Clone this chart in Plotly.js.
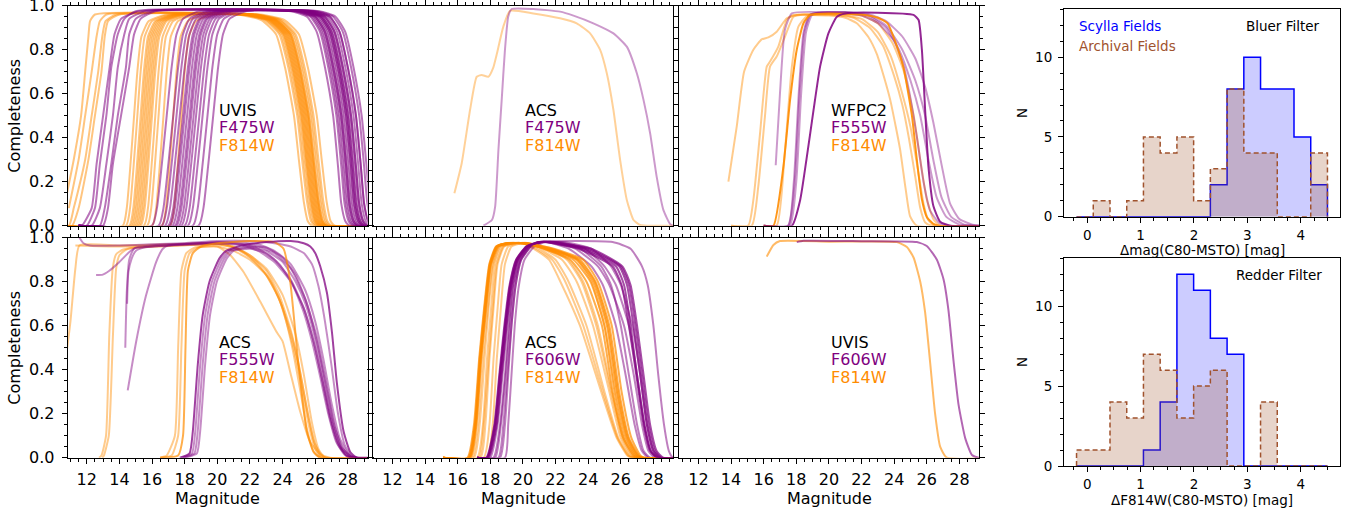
<!DOCTYPE html>
<html><head><meta charset="utf-8">
<script src="https://cdn.plot.ly/plotly-3.0.1.min.js"></script>
<style>html,body{margin:0;padding:0;background:#fff}#chart{width:1361px;height:514px}</style>
</head><body><div id="chart"></div>
<script>
// ---------------- DATA ----------------
// Panel labels
const cameras = ['UVIS', 'ACS', 'WFPC2', 'ACS', 'ACS', 'UVIS'];
const blueFilters = ['F475W', 'F475W', 'F555W', 'F555W', 'F606W', 'F606W'];
const redFilters = ['F814W', 'F814W', 'F814W', 'F814W', 'F814W', 'F814W'];
const magTicks = [12, 14, 16, 18, 20, 22, 24, 26, 28];
const compTicks = [0, 0.2, 0.4, 0.6, 0.8, 1.0];

// Panel A (UVIS F475W / F814W): magnitudes at fixed completeness levels
const levelsA_F475W = [0, 0, 0.08, 0.28, 0.5, 0.72, 0.87, 0.94, 0.975, 0.975, 0.95, 0.88, 0.72, 0.5, 0.27, 0.1, 0.02, 0, 0];
const panelA_F475W = [
  [11.5, 11.7, 12.3, 12.6, 13.0, 13.4, 13.7, 14.1, 15.2, 25.0, 26.0, 26.6, 27.1, 27.6, 27.9, 28.1, 28.35, 28.6, 30.5],
  [11.5, 12.3, 12.8, 13.2, 13.6, 13.9, 14.3, 14.6, 15.6, 25.6, 26.6, 27.2, 27.7, 28.2, 28.5, 28.7, 28.95, 29.2, 30.5],
  [11.5, 12.8, 13.1, 13.5, 13.9, 14.4, 14.6, 15.0, 16.0, 24.7, 25.7, 26.3, 26.8, 27.3, 27.6, 27.8, 28.05, 28.3, 30.5],
  [11.5, 13.0, 13.3, 13.6, 14.1, 14.6, 14.9, 15.3, 16.2, 25.9, 26.9, 27.5, 28.0, 28.5, 28.8, 29.0, 29.25, 29.5, 30.5],
  [11.5, 12.0, 12.5, 12.8, 13.2, 13.5, 13.9, 14.3, 15.0, 25.3, 26.3, 26.9, 27.4, 27.9, 28.2, 28.4, 28.65, 28.9, 30.5],
  [11.5, 16.0, 16.3, 16.6, 16.9, 17.2, 17.5, 17.9, 18.9, 24.9, 25.9, 26.5, 27.0, 27.5, 27.8, 28.0, 28.25, 28.5, 30.5],
  [11.5, 16.4, 16.7, 17.0, 17.3, 17.6, 17.9, 18.3, 19.3, 24.5, 25.5, 26.1, 26.6, 27.1, 27.4, 27.6, 27.85, 28.1, 30.5],
  [11.5, 16.6, 16.9, 17.2, 17.5, 17.8, 18.1, 18.5, 19.5, 25.4, 26.4, 27.0, 27.5, 28.0, 28.3, 28.5, 28.75, 29.0, 30.5],
  [11.5, 16.8, 17.1, 17.4, 17.7, 18.0, 18.3, 18.7, 19.7, 25.1, 26.1, 26.7, 27.2, 27.7, 28.0, 28.2, 28.45, 28.7, 30.5],
  [11.5, 17.0, 17.3, 17.6, 17.9, 18.2, 18.5, 18.9, 19.9, 25.75, 26.75, 27.35, 27.85, 28.35, 28.65, 28.85, 29.1, 29.35, 30.5],
  [11.5, 17.1, 17.4, 17.7, 18.0, 18.3, 18.6, 19.0, 20.0, 25.2, 26.2, 26.8, 27.3, 27.8, 28.1, 28.3, 28.55, 28.8, 30.5],
  [11.5, 17.25, 17.55, 17.85, 18.15, 18.45, 18.75, 19.15, 20.15, 25.5, 26.5, 27.1, 27.6, 28.1, 28.4, 28.6, 28.85, 29.1, 30.5],
  [11.5, 17.4, 17.7, 18.0, 18.3, 18.6, 18.9, 19.3, 20.3, 24.8, 25.8, 26.4, 26.9, 27.4, 27.7, 27.9, 28.15, 28.4, 30.5],
  [11.5, 17.5, 17.8, 18.1, 18.4, 18.7, 19.0, 19.4, 20.4, 25.9, 26.9, 27.5, 28.0, 28.5, 28.8, 29.0, 29.25, 29.5, 30.5],
  [11.5, 17.65, 17.95, 18.25, 18.55, 18.85, 19.15, 19.55, 20.55, 25.3, 26.3, 26.9, 27.4, 27.9, 28.2, 28.4, 28.65, 28.9, 30.5],
  [11.5, 17.8, 18.1, 18.4, 18.7, 19.0, 19.3, 19.7, 20.7, 25.6, 26.6, 27.2, 27.7, 28.2, 28.5, 28.7, 28.95, 29.2, 30.5],
  [11.5, 18.0, 18.3, 18.6, 18.9, 19.2, 19.5, 19.9, 20.9, 25.0, 26.0, 26.6, 27.1, 27.6, 27.9, 28.1, 28.35, 28.6, 30.5],
  [11.5, 18.2, 18.5, 18.8, 19.1, 19.4, 19.7, 20.1, 21.1, 26.1, 27.1, 27.7, 28.2, 28.7, 29.0, 29.2, 29.45, 29.7, 30.5],
  [11.5, 18.5, 18.8, 19.1, 19.4, 19.7, 20.0, 20.4, 21.4, 25.4, 26.4, 27.0, 27.5, 28.0, 28.3, 28.5, 28.75, 29.0, 30.5],
  [11.5, 18.85, 19.15, 19.45, 19.75, 20.05, 20.35, 20.75, 21.75, 26.25, 27.25, 27.85, 28.35, 28.85, 29.15, 29.35, 29.6, 29.85, 30.5]
];
const levelsA_F814W = [0, 0, 0.08, 0.3, 0.5, 0.7, 0.86, 0.93, 0.96, 0.96, 0.935, 0.87, 0.72, 0.5, 0.3, 0.11, 0.02, 0, 0];
const panelA_F814W = [
  [null, null, 10.6, 11.2, 11.65, 11.9, 12.1, 12.2, 12.5, 21.5, 23.0, 23.9, 24.45, 25.0, 25.3, 25.6, 25.85, 26.1, 30.5],
  [null, null, 10.9, 11.5, 11.9, 12.3, 12.6, 12.8, 13.2, 22.1, 23.6, 24.5, 25.05, 25.6, 25.9, 26.2, 26.45, 26.7, 30.5],
  [10.0, 10.9, 11.2, 11.9, 12.3, 12.7, 12.95, 13.15, 13.8, 21.8, 23.3, 24.2, 24.75, 25.3, 25.6, 25.9, 26.15, 26.4, 30.5],
  [10.0, 11.1, 11.5, 12.1, 12.5, 12.9, 13.1, 13.3, 14.0, 21.4, 22.9, 23.8, 24.35, 24.9, 25.2, 25.5, 25.75, 26.0, 30.5],
  [10.0, 14.2, 14.45, 14.7, 14.9, 15.1, 15.35, 15.8, 16.9, 21.9, 23.4, 24.3, 24.85, 25.4, 25.7, 26.0, 26.25, 26.5, 30.5],
  [10.0, 14.4, 14.65, 14.9, 15.1, 15.3, 15.55, 16.0, 17.1, 21.2, 22.7, 23.6, 24.15, 24.7, 25.0, 25.3, 25.55, 25.8, 30.5],
  [10.0, 14.6, 14.85, 15.1, 15.3, 15.5, 15.75, 16.2, 17.3, 22.0, 23.5, 24.4, 24.95, 25.5, 25.8, 26.1, 26.35, 26.6, 30.5],
  [10.0, 14.7, 14.95, 15.2, 15.4, 15.6, 15.85, 16.3, 17.4, 21.6, 23.1, 24.0, 24.55, 25.1, 25.4, 25.7, 25.95, 26.2, 30.5],
  [10.0, 14.8, 15.05, 15.3, 15.5, 15.7, 15.95, 16.4, 17.5, 22.3, 23.8, 24.7, 25.25, 25.8, 26.1, 26.4, 26.65, 26.9, 30.5],
  [10.0, 14.9, 15.15, 15.4, 15.6, 15.8, 16.05, 16.5, 17.6, 21.7, 23.2, 24.1, 24.65, 25.2, 25.5, 25.8, 26.05, 26.3, 30.5],
  [10.0, 15.0, 15.25, 15.5, 15.7, 15.9, 16.15, 16.6, 17.7, 21.85, 23.35, 24.25, 24.8, 25.35, 25.65, 25.95, 26.2, 26.45, 30.5],
  [10.0, 15.1, 15.35, 15.6, 15.8, 16.0, 16.25, 16.7, 17.8, 22.1, 23.6, 24.5, 25.05, 25.6, 25.9, 26.2, 26.45, 26.7, 30.5],
  [10.0, 15.2, 15.45, 15.7, 15.9, 16.1, 16.35, 16.8, 17.9, 21.95, 23.45, 24.35, 24.9, 25.45, 25.75, 26.05, 26.3, 26.55, 30.5],
  [10.0, 15.3, 15.55, 15.8, 16.0, 16.2, 16.45, 16.9, 18.0, 22.6, 24.1, 25.0, 25.55, 26.1, 26.4, 26.7, 26.95, 27.2, 30.5],
  [10.0, 15.5, 15.75, 16.0, 16.2, 16.4, 16.65, 17.1, 18.2, 21.75, 23.25, 24.15, 24.7, 25.25, 25.55, 25.85, 26.1, 26.35, 30.5],
  [10.0, 15.7, 15.95, 16.2, 16.4, 16.6, 16.85, 17.3, 18.4, 22.2, 23.7, 24.6, 25.15, 25.7, 26.0, 26.3, 26.55, 26.8, 30.5],
  [10.0, 16.0, 16.25, 16.5, 16.7, 16.9, 17.15, 17.6, 18.7, 22.4, 23.9, 24.8, 25.35, 25.9, 26.2, 26.5, 26.75, 27.0, 30.5],
  [10.0, 16.6, 16.85, 17.1, 17.3, 17.5, 17.75, 18.2, 19.3, 21.65, 23.15, 24.05, 24.6, 25.15, 25.45, 25.75, 26.0, 26.25, 30.5],
  [10.0, 17.1, 17.35, 17.6, 17.8, 18.0, 18.25, 18.7, 19.8, 22.05, 23.55, 24.45, 25.0, 25.55, 25.85, 26.15, 26.4, 26.65, 30.5]
];

// Panel B (ACS F475W / F814W): [mag, completeness] pairs
const panelB_F475W = [
  [17.58,0, 18.1,0.026, 18.3,0.087, 18.5,0.344, 18.7,0.571, 18.9,0.799, 19.1,0.95, 19.31,0.985, 20.64,0.985, 22.28,0.973, 23.1,0.955, 24.32,0.92, 25.55,0.874, 26.37,0.814, 26.98,0.694, 27.39,0.573, 27.8,0.42, 28.2,0.223, 28.61,0.072, 29.02,0.008, 29.2,0, 30.5,0]
];
const panelB_F814W = [
  [15.8,0.147, 16.25,0.284, 16.76,0.526, 17.17,0.677, 17.47,0.685, 17.88,0.677, 18.19,0.72, 18.4,0.78, 18.8,0.905, 19.21,0.977, 20.64,0.965, 22.28,0.943, 23.3,0.92, 24.12,0.874, 24.73,0.80, 25.14,0.694, 25.55,0.526, 25.96,0.299, 26.37,0.117, 26.78,0.026, 27.19,0.003, 27.6,0, 30.5,0]
];

// Panel C (WFPC2 F555W / F814W)
const panelC_F555W_strong = [
  [16.0,0, 17.73,0, 18.24,0.117, 18.65,0.314, 19.06,0.526, 19.46,0.723, 19.97,0.874, 20.49,0.95, 21.0,0.965, 23,0.968, 25.19,0.958, 25.5,0.935, 25.7,0.8, 25.9,0.526, 26.1,0.27, 26.41,0.088, 26.82,0.018, 27.43,0, 30.5,0]
];
const panelC_F555W = [
  [16.74,0.275, 17.0,0.6, 17.3,0.889, 17.73,0.965, 20,0.97, 22,0.955, 23.0,0.92, 24.0,0.84, 24.6,0.72, 25.0,0.58, 25.4,0.4, 25.8,0.2, 26.2,0.07, 26.8,0.01, 27.5,0, 30.5,0],
  [16.0,0, 17.5,0, 17.9,0.2, 18.2,0.6, 18.5,0.88, 18.9,0.96, 21,0.97, 22.5,0.95, 23.5,0.9, 24.3,0.8, 25.0,0.66, 25.6,0.5, 26.1,0.3, 26.6,0.13, 27.2,0.04, 28,0.005, 29,0, 30.5,0],
  [16.0,0, 17.6,0, 18.0,0.2, 18.3,0.6, 18.6,0.88, 19.0,0.96, 21,0.97, 22.5,0.955, 23.5,0.91, 24.5,0.8, 25.3,0.66, 25.9,0.5, 26.4,0.3, 26.9,0.13, 27.5,0.04, 28.3,0.005, 29.1,0, 30.5,0],
  [16.0,0, 17.5,0, 17.85,0.2, 18.15,0.6, 18.45,0.88, 18.85,0.96, 21,0.97, 22.5,0.96, 23.5,0.93, 24.5,0.86, 25.3,0.76, 25.9,0.63, 26.4,0.47, 26.9,0.28, 27.43,0.1, 28.0,0.03, 28.8,0.005, 29.3,0, 30.5,0]
];
const panelC_F814W_strong = [
  [16.0,0, 16.6,0, 17.21,0.268, 17.62,0.571, 18.03,0.8, 18.44,0.92, 18.85,0.958, 20,0.965, 22,0.96, 23.0,0.945, 23.6,0.92, 24.1,0.83, 24.57,0.72, 25.09,0.5, 25.39,0.3, 25.7,0.12, 26.0,0.04, 26.41,0.008, 26.8,0, 30.5,0]
];
const panelC_F814W = [
  [13.84,0.2, 14.35,0.45, 14.8,0.7, 15.37,0.8, 15.88,0.847, 16.29,0.856, 16.8,0.882, 17.42,0.943, 18.03,0.958, 20,0.955, 21.0,0.945, 21.71,0.92, 22.4,0.86, 22.94,0.78, 23.4,0.67, 23.76,0.572, 24.1,0.45, 24.37,0.345, 24.7,0.17, 24.98,0.042, 25.39,0, 30.5,0],
  [14.0,0, 15.06,0.001, 15.37,0.117, 15.78,0.42, 16.19,0.723, 16.39,0.746, 16.9,0.814, 17.42,0.935, 17.83,0.958, 20,0.96, 21.5,0.945, 22.5,0.9, 23.3,0.82, 24.0,0.68, 24.5,0.55, 24.9,0.4, 25.3,0.22, 25.6,0.08, 25.9,0.015, 26.3,0, 30.5,0],
  [14.0,0, 15.27,0, 15.67,0.178, 16.08,0.496, 16.39,0.723, 16.8,0.769, 17.31,0.86, 17.83,0.95, 18.5,0.96, 20.5,0.96, 22,0.94, 23,0.88, 23.8,0.77, 24.5,0.6, 25.0,0.45, 25.4,0.28, 25.8,0.1, 26.1,0.025, 26.5,0, 30.5,0],
  [16.0,0, 16.8,0, 17.31,0.344, 17.73,0.723, 18.13,0.905, 18.65,0.953, 20,0.962, 22,0.955, 23,0.92, 23.9,0.83, 24.6,0.7, 25.2,0.5, 25.6,0.3, 26.0,0.12, 26.4,0.03, 26.8,0, 30.5,0]
];

// Panel D (ACS F555W / F814W)
const panelD_F555W_strong = [
  [17.7,0, 18.3,0.02, 18.5,0.12, 18.8,0.42, 19.11,0.65, 19.52,0.8, 20.13,0.906, 20.54,0.94, 21.5,0.965, 23,0.98, 24.5,0.985, 25.3,0.975, 25.7,0.96, 26.0,0.93, 26.31,0.87, 26.72,0.75, 27.03,0.57, 27.33,0.34, 27.74,0.12, 28.15,0.026, 28.56,0, 30.5,0]
];
const panelD_F555W = [
  [11.55,1.0, 11.8,0.975, 12.2,0.965, 14,0.965, 16,0.97, 18,0.975, 20,0.985, 22,0.985, 23.5,0.975, 24.5,0.96, 25.3,0.93, 25.8,0.88, 26.2,0.78, 26.6,0.62, 27.0,0.42, 27.4,0.2, 27.8,0.06, 28.2,0.01, 28.6,0, 30.5,0],
  [12.57,0.83, 12.98,0.832, 13.38,0.85, 14.0,0.89, 14.61,0.935, 15.0,0.955, 17,0.97, 20,0.975, 21.5,0.965, 22.5,0.94, 23.5,0.89, 24.5,0.8, 25.3,0.68, 25.9,0.53, 26.4,0.36, 26.9,0.18, 27.4,0.06, 27.9,0.01, 28.4,0, 30.5,0],
  [14.47,0.70, 14.55,0.845, 14.75,0.905, 15.0,0.94, 15.5,0.955, 18,0.97, 20,0.98, 21.5,0.97, 22.5,0.95, 23.5,0.9, 24.5,0.81, 25.3,0.68, 26.0,0.5, 26.6,0.3, 27.1,0.14, 27.6,0.04, 28.1,0.005, 28.5,0, 30.5,0],
  [14.36,0.5, 14.45,0.75, 14.6,0.9, 14.9,0.95, 16,0.96, 19,0.97, 21,0.975, 22.5,0.96, 23.5,0.93, 24.5,0.86, 25.4,0.72, 26.1,0.55, 26.7,0.33, 27.2,0.14, 27.7,0.04, 28.2,0.005, 28.6,0, 30.5,0],
  [14.51,0.306, 15.02,0.525, 15.63,0.737, 16.25,0.889, 16.66,0.95, 17.0,0.965, 19,0.975, 21,0.98, 22.5,0.97, 23.5,0.94, 24.5,0.88, 25.4,0.76, 26.0,0.62, 26.5,0.45, 27.0,0.25, 27.5,0.09, 28.0,0.02, 28.5,0, 30.5,0],
  [17.8,0, 18.45,0.02, 18.65,0.12, 18.95,0.42, 19.26,0.65, 19.67,0.8, 20.28,0.906, 20.7,0.94, 21.8,0.96, 23,0.955, 24,0.91, 24.8,0.83, 25.5,0.7, 26.1,0.53, 26.6,0.35, 27.1,0.17, 27.6,0.05, 28.1,0.01, 28.5,0, 30.5,0],
  [17.9,0, 18.6,0.02, 18.8,0.12, 19.1,0.42, 19.41,0.65, 19.82,0.8, 20.43,0.906, 20.85,0.94, 22,0.955, 23,0.94, 24,0.89, 24.8,0.8, 25.4,0.7, 25.9,0.57, 26.4,0.4, 26.9,0.2, 27.4,0.07, 27.9,0.01, 28.3,0, 30.5,0],
  [18.0,0, 18.75,0.02, 18.95,0.12, 19.25,0.42, 19.56,0.65, 19.97,0.8, 20.58,0.906, 21.0,0.94, 22,0.95, 23,0.93, 23.8,0.88, 24.6,0.79, 25.3,0.66, 25.8,0.53, 26.3,0.37, 26.8,0.2, 27.3,0.07, 27.8,0.015, 28.2,0, 30.5,0]
];
const panelD_F814W_strong = [
  [16.5,0, 17.6,0.01, 17.9,0.1, 18.05,0.5, 18.2,0.85, 18.5,0.93, 19.0,0.96, 20,0.975, 22,0.985, 23.5,0.98, 24.06,0.95, 24.47,0.8, 24.98,0.42, 25.49,0.12, 25.9,0.026, 26.3,0, 30.5,0]
];
const panelD_F814W = [
  [10.75,0.47, 11.0,0.62, 11.3,0.86, 11.55,0.965, 14,0.965, 17,0.97, 19,0.975, 20.5,0.97, 21.5,0.94, 22.5,0.88, 23.3,0.8, 24.0,0.68, 24.6,0.5, 25.1,0.3, 25.5,0.13, 25.9,0.03, 26.3,0, 30.5,0],
  [12.75,0, 12.9,0.01, 13.18,0.1, 13.38,0.56, 13.59,0.86, 13.8,0.925, 14.2,0.945, 15,0.955, 18,0.97, 20,0.975, 21.0,0.96, 22.0,0.92, 23.0,0.85, 23.8,0.74, 24.5,0.58, 25.0,0.42, 25.5,0.22, 25.9,0.08, 26.3,0.01, 26.6,0, 30.5,0],
  [12.95,0, 13.05,0.01, 13.35,0.1, 13.6,0.55, 13.8,0.86, 14.0,0.92, 14.4,0.945, 15,0.955, 18,0.965, 20,0.97, 21.0,0.955, 22.0,0.91, 23.0,0.83, 23.8,0.72, 24.6,0.52, 25.1,0.35, 25.6,0.15, 26.0,0.04, 26.4,0, 30.5,0],
  [16.5,0, 16.9,0.01, 17.4,0.1, 17.6,0.5, 17.8,0.85, 18.1,0.93, 18.6,0.955, 20,0.96, 21,0.94, 22,0.9, 23,0.83, 23.8,0.72, 24.5,0.57, 25.1,0.38, 25.6,0.18, 26.0,0.06, 26.4,0.01, 26.8,0, 30.5,0],
  [16.5,0, 17.2,0.01, 17.6,0.1, 17.8,0.5, 18.0,0.85, 18.3,0.93, 18.8,0.955, 20,0.96, 20.8,0.92, 21.6,0.845, 22.63,0.71, 23.65,0.57, 24.0,0.53, 24.47,0.39, 25.08,0.21, 25.7,0.07, 26.3,0.018, 26.9,0, 30.5,0],
  [11.3,0.965, 14,0.96, 17,0.965, 20,0.97, 21,0.955, 22,0.92, 23,0.86, 24,0.74, 24.8,0.56, 25.3,0.38, 25.8,0.16, 26.2,0.04, 26.6,0, 30.5,0]
];

// Panel E (ACS F606W / F814W): magnitudes at fixed completeness levels
const levelsE_F606W = [0, 0, 0.15, 0.375, 0.6, 0.78, 0.9, 0.96, 0.98, 0.98, 0.95, 0.87, 0.785, 0.6, 0.375, 0.15, 0.03, 0, 0];
const panelE_F606W_strong = [
  [17.2, 17.8, 18.3, 18.6, 18.91, 19.22, 19.63, 20.24, 21.0, 21.5, 23.8, 25.9, 26.38, 26.78, 27.19, 27.6, 28.0, 28.4, 30.5],
  [17.2, 17.75, 18.25, 18.55, 18.86, 19.17, 19.58, 20.2, 20.95, 21.6, 24.0, 26.0, 26.5, 26.9, 27.3, 27.7, 28.1, 28.5, 30.5],
  [17.2, 17.85, 18.35, 18.65, 18.96, 19.27, 19.68, 20.3, 21.05, 21.4, 23.6, 25.7, 26.2, 26.6, 27.0, 27.45, 27.85, 28.3, 30.5],
  [17.2, 17.8, 18.28, 18.58, 18.9, 19.2, 19.6, 20.22, 21.0, 21.8, 24.2, 26.1, 26.6, 27.0, 27.4, 27.8, 28.2, 28.6, 30.5],
  [17.2, 17.9, 18.4, 18.7, 19.0, 19.3, 19.7, 20.35, 21.1, 21.3, 23.4, 25.5, 26.05, 26.5, 26.95, 27.4, 27.8, 28.25, 30.5]
];
const panelE_F606W = [
  [17.2, 18.6, 18.9, 19.1, 19.3, 19.55, 19.9, 20.5, 21.2, 25.5, 26.6, 27.3, 27.65, 28.0, 28.3, 28.65, 28.95, 29.2, 30.5],
  [17.2, 18.9, 19.1, 19.3, 19.5, 19.75, 20.1, 20.7, 21.4, 22.0, 23.5, 24.8, 25.4, 26.0, 26.5, 27.0, 27.4, 27.8, 30.5],
  [17.2, 18.5, 18.8, 19.05, 19.3, 19.55, 19.9, 20.5, 21.2, 21.8, 23.2, 24.6, 25.3, 26.2, 26.8, 27.3, 27.7, 28.1, 30.5],
  [17.2, 18.2, 18.6, 18.9, 19.15, 19.4, 19.8, 20.4, 21.1, 22.2, 23.8, 25.0, 25.7, 26.5, 27.0, 27.45, 27.85, 28.2, 30.5],
  [17.2, 18.0, 18.45, 18.75, 19.05, 19.35, 19.75, 20.35, 21.1, 21.5, 22.8, 24.2, 24.9, 25.7, 26.3, 26.85, 27.3, 27.7, 30.5],
  [17.2, 18.3, 18.65, 18.95, 19.2, 19.45, 19.85, 20.45, 21.2, 22.5, 24.2, 25.4, 26.0, 26.7, 27.2, 27.6, 28.0, 28.4, 30.5]
];
const levelsE_F814W = [0, 0, 0.15, 0.45, 0.68, 0.88, 0.96, 0.975, 0.975, 0.95, 0.9, 0.8, 0.6, 0.3, 0.09, 0.01, 0, 0];
const panelE_F814W_strong = [
  [15.1, 16.7, 17.07, 17.38, 17.68, 17.99, 18.4, 19.0, 20.0, 21.5, 23.3, 24.3, 25.15, 25.76, 26.38, 27.0, 27.3, 30.5],
  [15.1, 16.75, 17.12, 17.42, 17.72, 18.03, 18.45, 19.1, 20.2, 21.7, 23.5, 24.45, 25.3, 25.9, 26.5, 27.1, 27.4, 30.5],
  [15.1, 16.6, 17.0, 17.32, 17.62, 17.94, 18.35, 19.0, 19.9, 21.4, 23.1, 24.15, 25.0, 25.62, 26.25, 26.9, 27.2, 30.5],
  [15.1, 16.8, 17.15, 17.45, 17.76, 18.06, 18.5, 19.1, 20.3, 21.9, 23.7, 24.6, 25.45, 26.05, 26.65, 27.2, 27.5, 30.5],
  [15.1, 16.7, 17.1, 17.4, 17.7, 18.0, 18.42, 19.05, 20.1, 21.6, 23.4, 24.4, 25.22, 25.83, 26.45, 27.05, 27.35, 30.5],
  [15.1, 16.65, 17.05, 17.35, 17.65, 17.97, 18.38, 19.0, 20.0, 21.3, 22.9, 23.9, 24.85, 25.5, 26.15, 26.8, 27.1, 30.5]
];
const panelE_F814W = [
  [15.1, 17.2, 17.55, 17.8, 18.05, 18.3, 18.7, 19.4, 20.0, 20.65, 21.6, 22.3, 23.5, 24.8, 25.75, 26.4, 26.7, 30.5],
  [15.1, 17.4, 17.7, 17.95, 18.2, 18.45, 18.85, 19.5, 20.2, 21.0, 22.0, 22.8, 23.9, 25.0, 25.85, 26.5, 26.8, 30.5],
  [15.1, 17.6, 17.95, 18.2, 18.45, 18.7, 19.1, 19.7, 20.3, 21.2, 22.4, 23.3, 24.3, 25.3, 26.0, 26.6, 26.9, 30.5],
  [15.1, 17.0, 17.35, 17.65, 17.9, 18.2, 18.6, 19.2, 20.1, 21.3, 22.8, 23.7, 24.6, 25.45, 26.15, 26.75, 27.0, 30.5],
  [15.1, 17.8, 18.15, 18.4, 18.65, 18.9, 19.3, 19.9, 20.4, 21.4, 22.7, 23.6, 24.5, 25.4, 26.1, 26.7, 27.0, 30.5],
  [15.1, 16.9, 17.25, 17.55, 17.85, 18.15, 18.55, 19.2, 20.2, 21.8, 23.3, 24.2, 25.0, 25.7, 26.35, 26.9, 27.2, 30.5],
  [15.1, 17.3, 17.6, 17.9, 18.15, 18.4, 18.8, 19.4, 20.0, 20.8, 21.8, 22.6, 23.7, 24.9, 25.8, 26.45, 26.75, 30.5]
];

// Panel F (UVIS F606W / F814W)
const panelF_F606W = [
  [18.03,0.98, 18.44,0.986, 22,0.984, 25.39,0.98, 26.0,0.962, 26.62,0.9, 27.03,0.81, 27.33,0.67, 27.64,0.44, 27.95,0.24, 28.36,0.088, 28.77,0.012, 29.18,0, 30.5,0]
];
const panelF_F814W = [
  [16.19,0.914, 16.6,0.967, 17.0,0.985, 20,0.982, 24.17,0.98, 24.78,0.958, 25.19,0.91, 25.6,0.8, 25.9,0.66, 26.21,0.43, 26.51,0.2, 26.82,0.05, 27.23,0, 30.5,0]
];

// Histograms
const histEdges = [-0.2, 0.1133, 0.4267, 0.74, 1.0533, 1.3667, 1.68, 1.9933, 2.3067, 2.62, 2.9333, 3.2467, 3.56, 3.8733, 4.1867, 4.5];
const bluerScylla   = [0, 0, 0, 0, 0, 0, 0, 0, 2, 8, 10, 8, 8, 5, 2];
const bluerArchival = [0, 1, 0, 1, 5, 4, 5, 1, 3, 8, 4, 4, 0, 0, 4];
const redderScylla   = [0, 0, 0, 0, 1, 4, 12, 11, 8, 7, 0, 0, 0, 0, 0];
const redderArchival = [1, 1, 4, 3, 7, 6, 3, 5, 6, 0, 0, 4, 0, 0, 0];
const histXTicks = [0, 1, 2, 3, 4];
const histYTicks = [0, 5, 10];

// ---------------- STYLE / LAYOUT ----------------
const W = 1361, H = 514;
const PURPLE = '128,0,128', ORANGE = '255,140,0';
const FONT = 'DejaVu Sans, Verdana, sans-serif';

function fromPairs(flat) { const x = [], y = []; for (let i = 0; i < flat.length; i += 2) { x.push(flat[i]); y.push(flat[i + 1]); } return { x, y }; }
function fromLevels(levels, mags) { const x = [], y = []; mags.forEach((m, i) => { if (m !== null) { x.push(m); y.push(levels[i]); } }); return { x, y }; }

const traces = [];
function axName(n) { return n === 1 ? '' : String(n); }
function addCurves(list, n, rgb, alpha, width) {
  list.forEach(c => traces.push({
    type: 'scatter', mode: 'lines', x: c.x, y: c.y,
    xaxis: 'x' + axName(n), yaxis: 'y' + axName(n),
    line: { color: `rgba(${rgb},${alpha})`, width: width, shape: 'spline', smoothing: 0.5 },
    hoverinfo: 'skip', showlegend: false
  }));
}
// Panel A
addCurves(panelA_F814W.map(m => fromLevels(levelsA_F814W, m)), 1, ORANGE, 0.5, 2);
addCurves(panelA_F475W.map(m => fromLevels(levelsA_F475W, m)), 1, PURPLE, 0.55, 2);
// Panel B
addCurves(panelB_F814W.map(fromPairs), 2, ORANGE, 0.4, 2);
addCurves(panelB_F475W.map(fromPairs), 2, PURPLE, 0.4, 2);
// Panel C
addCurves(panelC_F814W.map(fromPairs), 3, ORANGE, 0.45, 2);
addCurves(panelC_F555W.map(fromPairs), 3, PURPLE, 0.4, 2);
addCurves(panelC_F814W_strong.map(fromPairs), 3, ORANGE, 0.9, 2);
addCurves(panelC_F555W_strong.map(fromPairs), 3, PURPLE, 0.85, 2);
// Panel D
addCurves(panelD_F814W.map(fromPairs), 4, ORANGE, 0.45, 2);
addCurves(panelD_F555W.map(fromPairs), 4, PURPLE, 0.45, 2);
addCurves(panelD_F814W_strong.map(fromPairs), 4, ORANGE, 0.7, 2);
addCurves(panelD_F555W_strong.map(fromPairs), 4, PURPLE, 0.75, 2);
// Panel E
addCurves(panelE_F814W.map(m => fromLevels(levelsE_F814W, m)), 5, ORANGE, 0.45, 2);
addCurves(panelE_F606W.map(m => fromLevels(levelsE_F606W, m)), 5, PURPLE, 0.5, 2);
addCurves(panelE_F814W_strong.map(m => fromLevels(levelsE_F814W, m)), 5, ORANGE, 0.7, 2);
addCurves(panelE_F606W_strong.map(m => fromLevels(levelsE_F606W, m)), 5, PURPLE, 0.7, 2);
// Panel F
addCurves(panelF_F814W.map(fromPairs), 6, ORANGE, 0.6, 2);
addCurves(panelF_F606W.map(fromPairs), 6, PURPLE, 0.6, 2);

// Histograms
function stepXY(edges, counts) {
  const x = [edges[0]], y = [0];
  counts.forEach((c, i) => { x.push(edges[i]); y.push(c); });
  x.push(edges[edges.length - 1]); y.push(counts[counts.length - 1]);
  x.push(edges[edges.length - 1]); y.push(0);
  return { x, y };
}
function addHist(counts, n, kind) {
  const s = stepXY(histEdges, counts);
  const blue = kind === 'scylla';
  traces.push({
    type: 'scatter', mode: 'lines', x: s.x, y: s.y, xaxis: 'x' + n, yaxis: 'y' + n,
    fill: 'tozeroy',
    fillcolor: blue ? 'rgba(0,0,255,0.2)' : 'rgba(160,82,45,0.25)',
    line: { shape: 'hv', color: blue ? '#0000ff' : '#a0522d', width: 1.5, dash: blue ? 'solid' : '5px,3px' },
    hoverinfo: 'skip', showlegend: false
  });
}
addHist(bluerScylla, 7, 'scylla');
addHist(bluerArchival, 7, 'arch');
addHist(redderScylla, 8, 'scylla');
addHist(redderArchival, 8, 'arch');

const colX = [[67.7, 367.7], [373.3, 673.3], [679.3, 979.3]];
const rowY = [[5.7, 225.7], [237.7, 457.7]];
const xd = p => [p[0] / W, p[1] / W];
const yd = p => [1 - p[1] / H, 1 - p[0] / H];

const layout = {
  width: W, height: H, margin: { l: 0, r: 0, t: 0, b: 0 },
  paper_bgcolor: '#fff', plot_bgcolor: '#fff', showlegend: false,
  font: { family: FONT, size: 16, color: '#000' },
  annotations: []
};
for (let n = 1; n <= 6; n++) {
  const col = (n - 1) % 3, row = n <= 3 ? 0 : 1;
  const a = axName(n);
  layout['xaxis' + a] = {
    domain: xd(colX[col]), range: [10.83, 29.22], anchor: 'y' + a,
    showline: true, mirror: 'ticks', linecolor: '#000', linewidth: 1,
    ticks: 'outside', ticklen: 5, tickwidth: 1, tickcolor: '#000',
    tickmode: 'array', tickvals: magTicks, showticklabels: row === 1,
    tickfont: { size: 16 }, ticklabelstandoff: 2, ticklabeloverflow: 'allow',
    minor: { dtick: 0.5, tick0: 0, ticks: 'outside', ticklen: 3, tickwidth: 1, tickcolor: '#000', showgrid: false },
    showgrid: false, zeroline: false, fixedrange: true
  };
  layout['yaxis' + a] = {
    domain: yd(rowY[row]), range: [0, 1], anchor: 'x' + a,
    showline: true, mirror: 'ticks', linecolor: '#000', linewidth: 1,
    ticks: 'outside', ticklen: 5, tickwidth: 1, tickcolor: '#000',
    tickmode: 'array', tickvals: compTicks, ticktext: compTicks.map(v => v.toFixed(1)),
    showticklabels: col === 0, tickfont: { size: 16 }, ticklabelstandoff: 4, ticklabeloverflow: 'allow',
    minor: { dtick: 0.05, tick0: 0, ticks: 'outside', ticklen: 3, tickwidth: 1, tickcolor: '#000', showgrid: false },
    showgrid: false, zeroline: false, fixedrange: true
  };
  const xr = 'x' + a, yr = 'y' + a;
  layout.annotations.push(
    { xref: xr, yref: yr, x: 20, y: 0.525, text: cameras[n - 1], showarrow: false, xanchor: 'left', yanchor: 'middle', font: { size: 16, color: '#000' } },
    { xref: xr, yref: yr, x: 20, y: 0.445, text: blueFilters[n - 1], showarrow: false, xanchor: 'left', yanchor: 'middle', font: { size: 16, color: 'rgb(128,0,128)' } },
    { xref: xr, yref: yr, x: 20, y: 0.363, text: redFilters[n - 1], showarrow: false, xanchor: 'left', yanchor: 'middle', font: { size: 16, color: 'rgb(255,140,0)' } }
  );
}
const histX = [1064, 1340];
const histY = [[9.3, 216.7], [258.3, 466]];
[7, 8].forEach((n, i) => {
  layout['xaxis' + n] = {
    domain: xd(histX), range: [-0.435, 4.735], anchor: 'y' + n,
    showline: true, mirror: true, linecolor: '#000', linewidth: 1,
    ticks: 'outside', ticklen: 5, tickwidth: 1, tickcolor: '#000',
    tickmode: 'array', tickvals: histXTicks, tickfont: { size: 13.5 }, ticklabelstandoff: 1,
    minor: { dtick: 0.25, tick0: 0, ticks: 'outside', ticklen: 3, tickwidth: 1, tickcolor: '#000', showgrid: false },
    showgrid: false, zeroline: false, fixedrange: true
  };
  layout['yaxis' + n] = {
    domain: yd(histY[i]), range: [0, 13], anchor: 'x' + n,
    showline: true, mirror: true, linecolor: '#000', linewidth: 1,
    ticks: 'outside', ticklen: 5, tickwidth: 1, tickcolor: '#000',
    tickmode: 'array', tickvals: histYTicks, tickfont: { size: 13.5 }, ticklabelstandoff: 3,
    minor: { dtick: 1, tick0: 0, ticks: 'outside', ticklen: 3, tickwidth: 1, tickcolor: '#000', showgrid: false },
    showgrid: false, zeroline: false, fixedrange: true
  };
});

function paperAnn(px, py, text, opts) {
  return Object.assign({ xref: 'paper', yref: 'paper', x: px / W, y: 1 - py / H, text: text, showarrow: false, xanchor: 'center', yanchor: 'middle', font: { size: 16, color: '#000' } }, opts || {});
}
layout.annotations.push(
  paperAnn(15, 115.7, 'Completeness', { textangle: -90 }),
  paperAnn(15, 347.7, 'Completeness', { textangle: -90 }),
  paperAnn(217.7, 498.3, 'Magnitude'),
  paperAnn(523.3, 498.3, 'Magnitude'),
  paperAnn(829.3, 498.3, 'Magnitude'),
  paperAnn(1202, 250, 'Δmag(C80-MSTO) [mag]', { font: { size: 13.5, color: '#000' } }),
  paperAnn(1202, 500, 'ΔF814W(C80-MSTO) [mag]', { font: { size: 13.5, color: '#000' } }),
  paperAnn(1022, 113, 'N', { textangle: -90, font: { size: 13.5, color: '#000' } }),
  paperAnn(1022, 362, 'N', { textangle: -90, font: { size: 13.5, color: '#000' } }),
  paperAnn(1077.3, 25.7, 'Scylla Fields', { xanchor: 'left', font: { size: 13.5, color: '#0000ff' } }),
  paperAnn(1077.3, 46, 'Archival Fields', { xanchor: 'left', font: { size: 13.5, color: '#a0522d' } }),
  paperAnn(1321.7, 25.7, 'Bluer Filter', { xanchor: 'right', font: { size: 13.5, color: '#000' } }),
  paperAnn(1324, 275, 'Redder Filter', { xanchor: 'right', font: { size: 13.5, color: '#000' } })
);

Plotly.newPlot('chart', traces, layout, { staticPlot: true, displayModeBar: false });
</script></body></html>
